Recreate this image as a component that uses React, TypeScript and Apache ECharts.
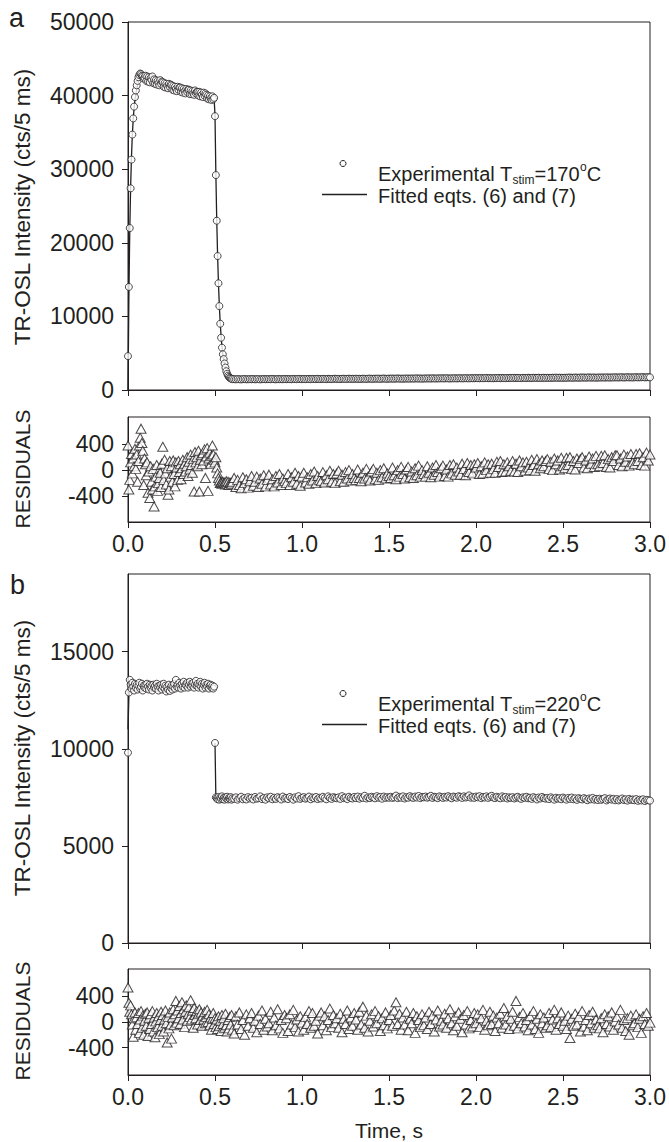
import React, { useEffect, useRef } from 'react';
import * as echarts from 'echarts';

// ---- channel layout (measurement channels) ----
const FAST_STEP = 0.005; // 5 ms channels, 0 – 0.60 s
const SLOW_START = 0.61; // 10 ms channels, 0.61 – 3.00 s
const SLOW_STEP = 0.01;

// ---- panel a : Tstim = 170 C ----
const expA_fast = [
  4600, 14000, 22000, 27400, 31300, 34700, 36900, 38500, 39800, 40700,
  41400, 42000, 42500, 42800, 43000, 42900, 42700, 42600, 42300, 42400,
  42700, 42000, 42600, 41900, 42500, 41800, 42400, 42100, 42600, 41700,
  42200, 41600, 42100, 41500, 42000, 41700, 41400, 42100, 41600, 41900,
  41800, 41200, 41700, 41100, 41600, 41300, 41000, 41600, 41200, 41500,
  41400, 40800, 41300, 40700, 41200, 40900, 40600, 41200, 40800, 41100,
  41100, 40500, 41000, 40400, 40900, 40600, 40300, 40900, 40500, 40800,
  40800, 40200, 40700, 40200, 40600, 40300, 40100, 40700, 40300, 40500,
  40500, 40000, 40500, 39900, 40400, 40100, 39800, 40400, 40000, 40300,
  40100, 39600, 40000, 39500, 39900, 39600, 39400, 39900, 39500, 39700,
  37200, 29200, 23000, 18200, 14500, 11400, 9000, 7100, 5750, 4850,
  4200, 3600, 3050, 2550, 2200, 1950, 1780, 1650, 1580, 1520,
  1480,
];
const expA_slow = [
  1470, 1450, 1480, 1460, 1440, 1470, 1490, 1450, 1460, 1480,
  1460, 1490, 1450, 1470, 1480, 1440, 1470, 1490, 1460, 1470,
  1480, 1460, 1500, 1470, 1450, 1490, 1470, 1480, 1460, 1500,
  1470, 1490, 1480, 1460, 1500, 1480, 1470, 1510, 1490, 1470,
  1500, 1480, 1490, 1510, 1470, 1500, 1490, 1480, 1520, 1490,
  1490, 1510, 1500, 1480, 1520, 1500, 1490, 1510, 1530, 1500,
  1510, 1490, 1520, 1530, 1500, 1510, 1540, 1500, 1520, 1510,
  1530, 1510, 1520, 1500, 1540, 1520, 1510, 1530, 1550, 1520,
  1520, 1540, 1530, 1550, 1510, 1540, 1560, 1530, 1520, 1550,
  1540, 1560, 1530, 1550, 1570, 1540, 1550, 1530, 1560, 1550,
  1560, 1540, 1570, 1550, 1560, 1580, 1550, 1570, 1540, 1560,
  1570, 1560, 1580, 1550, 1590, 1570, 1560, 1580, 1570, 1590,
  1580, 1570, 1600, 1580, 1560, 1590, 1580, 1600, 1570, 1590,
  1600, 1580, 1590, 1610, 1590, 1580, 1610, 1600, 1590, 1620,
  1610, 1590, 1620, 1600, 1610, 1630, 1600, 1620, 1610, 1590,
  1620, 1610, 1630, 1600, 1640, 1620, 1610, 1630, 1620, 1640,
  1630, 1650, 1620, 1640, 1630, 1610, 1650, 1640, 1630, 1660,
  1640, 1630, 1660, 1650, 1640, 1670, 1630, 1650, 1660, 1640,
  1660, 1650, 1640, 1670, 1660, 1680, 1650, 1670, 1660, 1650,
  1670, 1660, 1680, 1690, 1660, 1670, 1690, 1680, 1660, 1700,
  1680, 1700, 1670, 1690, 1710, 1680, 1690, 1700, 1670, 1690,
  1700, 1690, 1710, 1680, 1720, 1700, 1690, 1710, 1700, 1720,
  1710, 1700, 1720, 1730, 1700, 1710, 1740, 1710, 1720, 1700,
  1720, 1740, 1710, 1730, 1720, 1750, 1710, 1730, 1740, 1720,
];
const fitA_t = [
  0, 0.005, 0.01, 0.015, 0.02, 0.025, 0.03, 0.035, 0.04, 0.05, 0.06, 0.07, 0.08,
  0.1, 0.15, 0.2, 0.3, 0.4, 0.495, 0.5, 0.505, 0.51, 0.515, 0.52, 0.525, 0.53,
  0.535, 0.54, 0.545, 0.55, 0.56, 0.57, 0.58, 0.59, 0.6, 0.65, 1.0, 1.5, 2.0, 2.5, 3.0,
];
const fitA_v = [
  0, 12500, 21500, 27500, 31700, 34700, 36800, 38300, 39400, 40900, 41900, 42400, 42600,
  42400, 41900, 41450, 40700, 40250, 39650, 37300, 29300, 23100, 18200, 14400, 11400, 9100,
  7300, 5900, 4850, 4150, 3050, 2250, 1800, 1590, 1490, 1465, 1490, 1545, 1605, 1670, 1730,
];
const resA_fast = [
  380, -300, -150, 120, 250, -50, 180, 60, 330, 20,
  240, -180, 140, 380, 500, 640, 420, 300, -230, 180,
  90, -80, 120, -350, -20, -430, 60, -180, -300, 20,
  -560, -250, -100, 80, -320, -200, -120, -40, -260, 100,
  360, -150, 160, -50, -220, 30, -380, -300, 140, -100,
  60, -180, 150, -60, -250, 120, 40, -150, 140, -30,
  90, -140, 30, 160, -60, 100, -20, 60, 200, -90,
  130, 10, 240, 80, -40, 170, -330, 280, 120, 200,
  60, 300, -330, 160, 230, 90, 260, 150, 320, -120,
  210, 340, -320, 180, 270, 100, 220, 380, 240, 160,
  120, 200, 40, -50, -120, -160, -200, -190, -210, -180,
  -200, -190, -220, -170, -210, -180, -230, -190, -200, -210,
  -180,
];
const resA_slow = [
  -120, -260, -150, -230, -280, -110, -200, -140, -270, -170,
  -90, -240, -180, -100, -260, -130, -210, -80, -250, -150,
  -70, -220, -140, -250, -90, -190, -60, -230, -130, -170,
  -200, -60, -230, -110, -180, -40, -210, -90, -240, -100,
  -40, -190, -110, -210, -60, -160, -20, -200, -90, -150,
  -170, -30, -190, -80, -140, -10, -180, -60, -200, -50,
  -10, -170, -70, -180, -30, -130, 0, -160, -60, -120,
  -150, 10, -120, -170, -40, -130, 20, -100, -160, -20,
  20, -140, -40, -150, 0, -110, 30, -130, -50, -90,
  -120, 40, -80, -140, 0, -100, 50, -60, -130, 10,
  50, -110, -20, -120, 30, -80, 70, -100, 0, -60,
  -100, 60, -40, -110, 40, -70, 80, -30, -100, 30,
  70, -90, 10, -100, 80, -50, 90, -70, 40, -20,
  -70, 100, 20, -80, 110, -30, 80, -50, 90, 40,
  110, -60, 60, -50, 120, 0, 90, -40, 100, 20,
  -40, 130, 50, 140, -30, 90, -20, 120, 60, -10,
  140, -20, 100, -30, 150, 60, 120, -10, 130, 40,
  0, 160, 80, -10, 170, 90, 30, 150, 60, 140,
  170, 20, 130, 0, 180, 90, 150, 10, 190, 60,
  30, 190, 80, 200, 20, 140, 10, 180, 110, 170,
  200, 40, 150, 30, 210, 100, 180, 50, 220, 90,
  60, 220, 110, 230, 50, 170, 40, 200, 140, 230,
  230, 80, 180, 60, 240, 130, 210, 70, 250, 120,
  90, 250, 140, 260, 80, 200, 70, 270, 150, 240,
];

// ---- panel b : Tstim = 220 C ----
const expB_fast = [
  9800, 12900, 13550, 13300, 13100, 13400, 13200, 13000, 13350, 13150,
  13300, 13050, 13250, 13400, 13100, 13200, 13350, 13000, 13250, 13150,
  13300, 13100, 13350, 13200, 13050, 13300, 13150, 13250, 13000, 13300,
  13150, 13250, 13100, 13350, 13200, 13000, 13250, 13150, 13300, 13050,
  13200, 13350, 13100, 13250, 12950, 13200, 13050, 13300, 12980, 13150,
  13250, 13050, 13200, 13350, 13100, 13550, 13200, 13300, 13150, 13400,
  13250, 13100, 13350, 13200, 13450, 13150, 13300, 13250, 13400, 13150,
  13300, 13450, 13200, 13350, 13250, 13400, 13150, 13300, 13500, 13250,
  13350, 13150, 13300, 13450, 13200, 13350, 13100, 13300, 13400, 13150,
  13300, 13200, 13350, 13100, 13250, 13300, 13150, 13250, 13100, 13200,
  10300, 7500, 7450, 7400, 7520, 7380, 7480, 7420, 7550, 7400,
  7470, 7380, 7500, 7440, 7530, 7390, 7460, 7420, 7510, 7380,
  7450,
];
const expB_slow = [
  7420, 7500, 7380, 7460, 7530, 7400, 7470, 7390, 7510, 7440,
  7480, 7390, 7520, 7430, 7460, 7550, 7410, 7470, 7380, 7500,
  7450, 7530, 7400, 7480, 7420, 7510, 7460, 7390, 7540, 7440,
  7470, 7410, 7520, 7450, 7380, 7500, 7440, 7560, 7420, 7480,
  7510, 7430, 7470, 7540, 7400, 7490, 7450, 7520, 7410, 7480,
  7440, 7530, 7460, 7400, 7550, 7470, 7420, 7510, 7480, 7450,
  7500, 7420, 7560, 7460, 7490, 7410, 7530, 7470, 7440, 7520,
  7460, 7540, 7430, 7510, 7470, 7580, 7440, 7500, 7460, 7530,
  7490, 7450, 7560, 7480, 7520, 7430, 7540, 7470, 7510, 7480,
  7530, 7470, 7500, 7590, 7460, 7520, 7480, 7550, 7440, 7510,
  7480, 7560, 7500, 7470, 7540, 7490, 7570, 7460, 7520, 7500,
  7540, 7480, 7520, 7580, 7470, 7530, 7500, 7460, 7550, 7510,
  7470, 7530, 7490, 7560, 7500, 7450, 7540, 7510, 7480, 7560,
  7520, 7470, 7550, 7490, 7530, 7600, 7480, 7520, 7470, 7540,
  7500, 7560, 7460, 7520, 7490, 7550, 7470, 7530, 7580, 7490,
  7460, 7530, 7490, 7450, 7550, 7480, 7520, 7440, 7500, 7470,
  7510, 7440, 7490, 7530, 7460, 7420, 7500, 7470, 7530, 7450,
  7480, 7420, 7510, 7460, 7390, 7490, 7440, 7520, 7460, 7430,
  7470, 7410, 7500, 7440, 7380, 7480, 7430, 7460, 7400, 7490,
  7440, 7380, 7470, 7420, 7490, 7400, 7450, 7370, 7460, 7420,
  7390, 7460, 7410, 7350, 7440, 7400, 7470, 7380, 7420, 7360,
  7430, 7370, 7410, 7460, 7340, 7400, 7440, 7380, 7420, 7350,
  7410, 7340, 7390, 7440, 7360, 7400, 7330, 7420, 7370, 7390,
  7350, 7410, 7320, 7380, 7340, 7400, 7310, 7370, 7350, 7330,
];
const fitB1_t = [0, 0.005, 0.01, 0.02, 0.1, 0.2, 0.3, 0.4, 0.495];
const fitB1_v = [11000, 12700, 13150, 13200, 13210, 13220, 13240, 13250, 13250];
const fitB2_t = [0.5, 0.505, 0.6, 1.0, 1.5, 2.0, 2.5, 3.0];
const fitB2_v = [10300, 7460, 7450, 7460, 7490, 7490, 7430, 7350];
const resB_fast = [
  540, 300, 160, 260, 120, -40, -230, 60, 150, -120,
  80, -30, 140, -170, 40, 170, -90, 100, -200, 20,
  130, -60, 150, -220, 60, -110, 120, -30, 170, -150,
  70, -240, 10, 140, -80, 90, -190, 30, 160, -60,
  110, -150, 40, 180, -20, -320, 80, -100, 150, -40,
  -260, 70, 200, -50, 120, 330, -10, 180, 60, 250,
  -30, 140, 310, 40, 200, -80, 160, 260, 20, 120,
  230, 80, 340, 40, 180, -90, 220, 110, 60, 170,
  -40, 130, 200, 30, 150, -60, 100, 40, 160, -20,
  80, 190, 0, 120, -50, 70, -120, 50, 140, -30,
  60, -80, 40, -110, 90, -60, 20, -140, 110, -30,
  60, -90, 130, -50, -150, 30, -100, 80, -40, 110,
  -120,
];
const resB_slow = [
  -180, 90, -40, 150, -110, 30, -200, 120, -60, 60,
  140, -90, 20, -160, 100, -30, 180, -120, 50, -70,
  -20, 160, -130, 70, -50, 200, -100, 30, -170, 110,
  60, -140, 120, -40, 190, -80, 40, -150, 90, -10,
  -120, 80, -30, 170, -90, 140, -60, 20, -180, 100,
  150, -50, 90, -130, 30, 210, -80, 110, -20, 60,
  -90, 130, -160, 50, -30, 180, -110, 70, -60, 140,
  40, -120, 160, -40, 240, -90, 100, -150, 20, 120,
  -70, 170, -20, 90, -140, 60, -50, 150, -100, 30,
  110, -60, 180, 310, -30, 130, -120, 70, -40, 160,
  -130, 50, -20, 140, -170, 90, 30, -80, 120, -50,
  70, -110, 160, -30, 100, -150, 40, 180, -70, 20,
  -40, 130, -90, 60, 200, -20, -130, 90, -60, 150,
  50, -160, 110, -40, 170, -100, 30, -70, 140, -20,
  120, -80, 60, 190, -120, 20, -50, 160, -30, 100,
  -140, 70, -20, 130, -90, 220, -40, 90, -110, 50,
  160, -60, 330, -100, 80, -20, 140, -70, 30, -130,
  90, -40, 170, -110, 50, -170, 120, -20, 70, -90,
  -50, 140, -80, 40, 190, -120, 60, -30, 150, -60,
  20, -110, 100, -250, 50, -60, 130, -40, 80, -150,
  170, -70, 30, -130, 110, -20, 160, -90, 40, -50,
  -100, 60, -160, 120, -30, 90, -70, 150, -120, 10,
  80, -40, 190, -90, 30, -140, 60, -200, 100, -50,
  -20, 120, -80, 50, -170, 90, -30, 140, -60, -10,
];

// ---- axis ticks / labels ----
const xTicks = [0, 0.5, 1.0, 1.5, 2.0, 2.5, 3.0];
const yTicksA = [0, 10000, 20000, 30000, 40000, 50000];
const yTicksB = [0, 5000, 10000, 15000];
const yTicksRes = [-400, 0, 400];

const FONT = "'Liberation Sans', Arial, Helvetica, sans-serif";
const INK = '#231f20';
const TICK_FONT = 23;
const LEG_FONT = 20;
const SMALL_FONT = 12;

function pairs(fast: number[], slow: number[]): number[][] {
  const out: number[][] = [];
  fast.forEach((v, i) => out.push([+(i * FAST_STEP).toFixed(3), v]));
  slow.forEach((v, i) => out.push([+(SLOW_START + i * SLOW_STEP).toFixed(3), v]));
  return out;
}
function zipXY(t: number[], v: number[]): number[][] {
  return t.map((x, i) => [x, v[i]]);
}

const grids = [
  { left: 128, top: 22, width: 522, height: 368 },
  { left: 128, top: 417, width: 522, height: 105 },
  { left: 128, top: 574, width: 522, height: 369 },
  { left: 128, top: 969, width: 522, height: 106 },
];

function yAxis(gridIndex: number, min: number, max: number, ticks: number[]) {
  return {
    type: 'value', gridIndex, min, max,
    axisLine: { show: true, onZero: false, lineStyle: { color: INK, width: 1 } },
    axisTick: { show: true, length: 6, customValues: ticks, lineStyle: { color: INK, width: 1 } },
    axisLabel: {
      show: true, customValues: ticks, margin: 14, fontSize: TICK_FONT, color: INK, fontFamily: FONT,
      formatter: (v: number) => String(v),
    },
    splitLine: { show: false },
  };
}

function measure(text: string, size: number): number {
  const c = document.createElement('canvas').getContext('2d');
  if (!c) return text.length * size * 0.55;
  c.font = `${size}px 'Liberation Sans', Arial, sans-serif`;
  return c.measureText(text).width;
}

export default function App() {
  const ref = useRef<HTMLDivElement>(null);
  useEffect(() => {
    document.body.style.margin = '0';
    const chart = echarts.init(ref.current!, null, { renderer: 'svg' });
    const xAxes = [0, 1, 2, 3].map((i) => ({
      type: 'value', gridIndex: i, min: 0, max: 3,
      axisLine: { show: true, onZero: false, lineStyle: { color: INK, width: 1 } },
      axisTick: { show: true, length: 6, customValues: xTicks, lineStyle: { color: INK, width: 1 } },
      axisLabel: {
        show: i % 2 === 1, customValues: xTicks, margin: 10, fontSize: TICK_FONT, color: INK, fontFamily: FONT,
        formatter: (v: number) => v.toFixed(1),
      },
      splitLine: { show: false },
    }));
    const circleStyle = { color: '#ffffff', borderColor: INK, borderWidth: 1 };
    const triStyle = { color: '#ffffff', borderColor: INK, borderWidth: 1 };
    const lineStyle = { color: INK, width: 1.3 };

    const txt = (x: number, y: number, text: string, size: number, align = 'left') => ({
      type: 'text', x, y,
      style: {
        text, fontSize: size, fontFamily: FONT, fill: INK,
        align, textAlign: align, verticalAlign: 'middle', textVerticalAlign: 'middle',
      },
    });
    const vText = (x: number, y: number, text: string, size: number) => ({
      type: 'text', x, y, rotation: Math.PI / 2,
      style: {
        text, fontSize: size, fontFamily: FONT, fill: INK,
        align: 'center', textAlign: 'center', verticalAlign: 'middle', textVerticalAlign: 'middle',
      },
    });
    const legend = (c1: number, temp: string) => {
      const x0 = 378;
      const c2 = c1 + 22.5;
      const w1 = measure('Experimental T', LEG_FONT);
      const wSub = measure('stim', SMALL_FONT);
      const wEq = measure(`=${temp}`, LEG_FONT);
      const wSup = measure('o', SMALL_FONT);
      return [
        { type: 'circle', shape: { cx: 343, cy: c1 - 10, r: 3 }, style: { fill: '#fff', stroke: INK, lineWidth: 1 } },
        txt(x0, c1, 'Experimental T', LEG_FONT),
        txt(x0 + w1, c1 + 6.5, 'stim', SMALL_FONT),
        txt(x0 + w1 + wSub, c1, `=${temp}`, LEG_FONT),
        txt(x0 + w1 + wSub + wEq + 0.5, c1 - 6.5, 'o', SMALL_FONT),
        txt(x0 + w1 + wSub + wEq + wSup + 0.5, c1, 'C', LEG_FONT),
        { type: 'line', shape: { x1: 322, y1: c2 - 1.5, x2: 367, y2: c2 - 1.5 }, style: { stroke: INK, lineWidth: 1.3 } },
        txt(x0, c2, 'Fitted eqts. (6) and (7)', LEG_FONT),
      ];
    };

    chart.setOption({
      animation: false,
      backgroundColor: '#ffffff',
      grid: grids.map((g) => ({ ...g, show: true, borderColor: INK, borderWidth: 1, backgroundColor: 'transparent' })),
      xAxis: xAxes,
      yAxis: [
        yAxis(0, 0, 50000, yTicksA),
        yAxis(1, -800, 820, yTicksRes),
        yAxis(2, 0, 19000, yTicksB),
        yAxis(3, -830, 830, yTicksRes),
      ],
      series: [
        { type: 'line', xAxisIndex: 0, yAxisIndex: 0, data: zipXY(fitA_t, fitA_v), showSymbol: false, symbol: 'none', lineStyle, z: 2 },
        { type: 'scatter', xAxisIndex: 0, yAxisIndex: 0, data: pairs(expA_fast, expA_slow), symbol: 'circle', symbolSize: 7, itemStyle: circleStyle, z: 3 },
        { type: 'scatter', xAxisIndex: 1, yAxisIndex: 1, data: pairs(resA_fast, resA_slow), symbol: 'triangle', symbolSize: [10, 9], itemStyle: triStyle, z: 3 },
        { type: 'line', xAxisIndex: 2, yAxisIndex: 2, data: zipXY(fitB1_t, fitB1_v), showSymbol: false, symbol: 'none', lineStyle, z: 2 },
        { type: 'line', xAxisIndex: 2, yAxisIndex: 2, data: zipXY(fitB2_t, fitB2_v), showSymbol: false, symbol: 'none', lineStyle, z: 2 },
        { type: 'scatter', xAxisIndex: 2, yAxisIndex: 2, data: pairs(expB_fast, expB_slow), symbol: 'circle', symbolSize: 7, itemStyle: circleStyle, z: 3 },
        { type: 'scatter', xAxisIndex: 3, yAxisIndex: 3, data: pairs(resB_fast, resB_slow), symbol: 'triangle', symbolSize: [10, 9], itemStyle: triStyle, z: 3 },
      ],
      graphic: [
        txt(9, 18, 'a', 27),
        txt(10, 585, 'b', 27),
        vText(22, 207, 'TR-OSL Intensity (cts/5 ms)', 22.5),
        vText(22, 469, 'RESIDUALS', 21),
        vText(22, 758, 'TR-OSL Intensity (cts/5 ms)', 22.5),
        vText(22, 1021, 'RESIDUALS', 21),
        txt(389, 1130, 'Time, s', 21, 'center'),
        ...legend(173.5, '170'),
        ...legend(703.5, '220'),
      ],
    });
    return () => chart.dispose();
  }, []);
  return <div ref={ref} style={{ width: 669, height: 1142 }} />;
}
